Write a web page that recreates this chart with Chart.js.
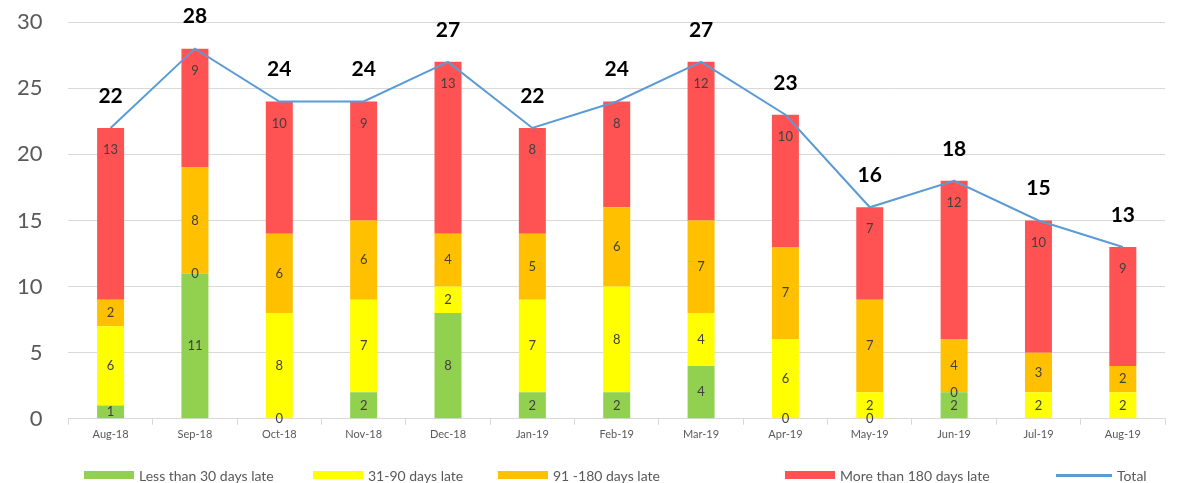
<!DOCTYPE html>
<html>
<head>
<meta charset="utf-8">
<script src="https://cdn.jsdelivr.net/npm/chart.js@4"></script>
<style>
  html, body { margin: 0; padding: 0; background: #fff; }
  #wrap { position: relative; width: 1200px; height: 483px; }
  #leyenda { position: absolute; left: 0; top: 465px; width: 1200px; height: 20px; }
  .item { position: absolute; top: 0; height: 20px; display: flex; align-items: center;
          font-family: Lato, 'Open Sans', sans-serif; font-size: 14px; color: #595959; white-space: nowrap; }
  .caja { width: 50px; height: 8px; margin-right: 5px; }
  .linea { width: 56px; height: 3px; margin-right: 5px; }
</style>
</head>
<body>
<div id="wrap">
  <canvas id="grafica"></canvas>
  <div id="leyenda"></div>
</div>
<script>
const meses = ["Aug-18", "Sep-18", "Oct-18", "Nov-18", "Dec-18", "Jan-19", "Feb-19", "Mar-19", "Apr-19", "May-19", "Jun-19", "Jul-19", "Aug-19"];
const menos30 = [1, 11, 0, 2, 8, 2, 2, 4, 0, 0, 2, null, null];
const de31a90 = [6, 0, 8, 7, 2, 7, 8, 4, 6, 2, 0, 2, 2];
const de91a180 = [2, 8, 6, 6, 4, 5, 6, 7, 7, 7, 4, 3, 2];
const mas180 = [13, 9, 10, 9, 13, 8, 8, 12, 10, 7, 12, 10, 9];
const total = [22, 28, 24, 24, 27, 22, 24, 27, 23, 16, 18, 15, 13];
const ticksY = [0, 5, 10, 15, 20, 25, 30];

const gris = "#595959";
const fuente = "Lato, 'Open Sans', sans-serif";

// etiquetas dentro de las barras y encima de la linea
const etiquetas = {
  id: "etiquetas",
  afterDatasetsDraw(chart) {
    const ctx = chart.ctx;
    ctx.save();
    ctx.textAlign = "center";
    ctx.textBaseline = "middle";
    chart.data.datasets.forEach((ds, i) => {
      const meta = chart.getDatasetMeta(i);
      if (meta.hidden) return;
      meta.data.forEach((el, j) => {
        const v = ds.data[j];
        if (v === null || v === undefined) return;
        if (ds.type === "line") {
          ctx.font = "bold 21px " + fuente;
          ctx.fillStyle = "#000";
          ctx.fillText(v, el.x, el.y - 32);
        } else {
          ctx.font = "13px " + fuente;
          ctx.fillStyle = "#404040";
          let y = (el.y + el.base) / 2;
          if (ds.label === "More than 180 days late") y = el.y + 22;
          ctx.fillText(v, el.x, y);
        }
      });
    });
    ctx.restore();
  }
};

const barra = (label, data, color) => ({
  type: "bar",
  label: label,
  data: data,
  backgroundColor: color,
  stack: "barras",
  order: 2,
  categoryPercentage: 1,
  barPercentage: 0.32
});

const grafica = new Chart(document.getElementById("grafica"), {
  data: {
    labels: meses,
    datasets: [
      barra("Less than 30 days late", menos30, "#92D050"),
      barra("31-90 days late", de31a90, "#FFFF00"),
      barra("91 -180 days late", de91a180, "#FFC000"),
      barra("More than 180 days late", mas180, "#FF5353"),
      {
        type: "line",
        label: "Total",
        data: total,
        borderColor: "#5B9BD5",
        backgroundColor: "#5B9BD5",
        borderWidth: 2,
        pointRadius: 0,
        tension: 0,
        stack: "linea",
        order: 1
      }
    ]
  },
  options: {
    responsive: true,
    maintainAspectRatio: false,
    animation: false,
    layout: { padding: { top: 0, right: 35, left: 8, bottom: 39 } },
    scales: {
      x: {
        stacked: true,
        grid: { offset: true, drawOnChartArea: false, drawTicks: true, tickLength: 6, color: "#D9D9D9" },
        border: { color: "#D9D9D9" },
        ticks: { color: gris, font: { family: fuente, size: 11 }, padding: 3, maxRotation: 0 }
      },
      y: {
        stacked: true,
        min: ticksY[0],
        max: ticksY[ticksY.length - 1],
        afterBuildTicks: axis => { axis.ticks = ticksY.map(v => ({ value: v })); },
        grid: { color: "#D9D9D9", drawTicks: false },
        border: { display: false },
        ticks: { color: gris, font: { family: fuente, size: 22 }, padding: 9, callback: v => v + "   " }
      }
    },
    plugins: {
      legend: { display: false },
      tooltip: { enabled: false }
    }
  },
  plugins: [etiquetas]
});

// leyenda en html, en el orden de las series
const posLeyenda = [84, 313, 498, 785, 1056];
const leyenda = document.getElementById("leyenda");
grafica.data.datasets.forEach((ds, i) => {
  const item = document.createElement("div");
  item.className = "item";
  item.style.left = posLeyenda[i] + "px";
  const marca = document.createElement("span");
  marca.className = ds.type === "line" ? "linea" : "caja";
  marca.style.background = ds.type === "line" ? ds.borderColor : ds.backgroundColor;
  const texto = document.createElement("span");
  texto.textContent = ds.label;
  item.appendChild(marca);
  item.appendChild(texto);
  leyenda.appendChild(item);
});
</script>
</body>
</html>
